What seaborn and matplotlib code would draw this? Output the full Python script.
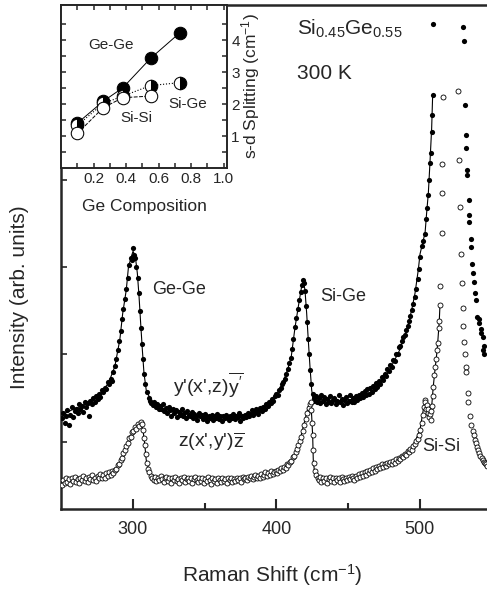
import numpy as np
import matplotlib
matplotlib.use('Agg')
import matplotlib.pyplot as plt
import seaborn as sns

# ---- main spectra: y'(x',z)y' (filled) ----
filled_x = [250.5, 251.5, 252.5, 253.5, 254.5, 255.5, 256.5, 257.5, 258.5, 259.5, 260.5, 261.5, 262.5, 263.5,
            264.5, 265.5, 266.5, 267.5, 268.5, 269.5, 270.5, 271.5, 272.5, 273.5, 274.5, 275.5, 276.5, 277.5,
            278.5, 279.5, 280.5, 281.5, 282.5, 283.5, 284.5, 285.5, 286.5, 287.5, 288.5, 289.5, 290.5, 291.5,
            292.5, 293.5, 294.5, 295.5, 296.5, 297.5, 298.5, 299.5, 300.5, 301.0, 301.5, 302.5, 303.5, 304.2,
            305.0, 305.8, 306.5, 307.2, 308.0, 308.8, 309.8, 311.0, 312.0, 313.0,
            314, 315, 316, 317, 318, 319, 320, 321, 322, 323, 324, 325, 326, 327, 328, 329, 330, 331, 332, 333,
            334, 335, 336, 337, 338, 339, 340, 341, 342, 343, 344, 345, 346, 347, 348, 349, 350, 351, 352, 353,
            354, 355, 356, 357, 358, 359, 360, 361, 362, 363, 364, 365, 366, 367, 368, 369, 370, 371, 372, 373,
            374, 375, 376, 377, 378, 379, 380, 381, 382, 383, 384, 385, 386, 387, 388, 389, 390, 391, 392, 393,
            394, 395, 396, 397, 398, 399, 400, 401, 402, 403, 404, 405, 406, 407, 408, 409, 410, 411, 412, 413,
            414, 415, 416, 417, 417.8, 418.5, 419.2, 420.0, 420.8, 421.5, 422.2, 423.0, 423.8, 424.5, 425.3, 426.0,
            426.5, 427.5, 428.5, 429.5, 430.5, 431.5, 432.5, 433.5, 434.5, 435.5, 436.5, 437.5, 438.5, 439.5,
            440.5, 441.5, 442.5, 443.5, 444.5, 445.5, 446.5, 447.5, 448.5, 449.5, 450.5, 451.5, 452.5, 453.5,
            454.5, 455.5, 456.5, 457.5, 458.5, 459.5, 460.5, 461.5, 462.5, 463.5, 464.5, 465.5, 466.5, 467.5,
            468.5, 469.5, 470.5, 471.5, 472.5, 473.5, 474.5, 475.5, 476.5, 477.5, 478.5, 479.5, 480.5, 481.5,
            482.5, 483.5, 484.5, 485.5, 486.5, 487.5, 488.5, 489.5, 490.5, 491.5, 492.5, 493.5, 494.5, 495.5,
            496.5, 497.5, 498.5, 499.5, 500.5, 501.5, 502.5, 503.5, 504.3, 505.0, 505.8, 506.5, 507.1, 507.6,
            508.2, 508.7, 509.1, 509.4,
            530.4, 530.8, 531.5, 532.0, 532.4, 533.1, 533.2, 534.1, 534.5, 534.6, 535.5, 535.6, 536.2, 537.3,
            537.8, 538.5, 539.2, 540.1, 541.0, 541.5, 542.5, 543.0, 543.9, 544.4, 544.6, 544.9]
filled_y = [0.27, 0.33, 0.22, 0.30, 0.36, 0.19, 0.31, 0.40, 0.28, 0.35, 0.38, 0.33, 0.43, 0.37,
            0.41, 0.34, 0.46, 0.40, 0.44, 0.30, 0.47, 0.43, 0.50, 0.45, 0.52, 0.49, 0.55, 0.51,
            0.59, 0.57, 0.62, 0.60, 0.68, 0.66, 0.72, 0.70, 0.80, 0.87, 0.95, 1.05, 1.15, 1.27,
            1.40, 1.52, 1.63, 1.75, 1.88, 2.02, 2.10, 2.08, 2.22, 2.14, 2.10, 2.00, 1.87, 1.70,
            1.50, 1.30, 1.12, 0.95, 0.78, 0.66, 0.57, 0.50, 0.47, 0.44,
            0.42, 0.46, 0.40, 0.43, 0.37, 0.41, 0.38, 0.43, 0.35, 0.39, 0.33, 0.40, 0.36, 0.30, 0.38, 0.33, 0.36, 0.28, 0.34, 0.31,
            0.37, 0.30, 0.33, 0.27, 0.35, 0.31, 0.29, 0.34, 0.27, 0.32, 0.30, 0.25, 0.33, 0.29, 0.31, 0.26, 0.32, 0.28, 0.24, 0.30,
            0.27, 0.31, 0.25, 0.29, 0.27, 0.32, 0.26, 0.29, 0.24, 0.30, 0.27, 0.31, 0.28, 0.25, 0.30, 0.27, 0.32, 0.26, 0.30, 0.28,
            0.33, 0.24, 0.30, 0.27, 0.31, 0.28, 0.33, 0.29, 0.32, 0.36, 0.31, 0.34, 0.37, 0.32, 0.36, 0.39, 0.35, 0.40, 0.38, 0.43,
            0.41, 0.46, 0.44, 0.49, 0.47, 0.52, 0.55, 0.53, 0.59, 0.61, 0.66, 0.68, 0.72, 0.77, 0.83, 0.90, 0.96, 1.06, 1.18, 1.31,
            1.42, 1.52, 1.62, 1.72, 1.80, 1.85, 1.82, 1.73, 1.55, 1.37, 1.18, 1.00, 0.82, 0.66, 0.55, 0.50,
            0.47, 0.52, 0.45, 0.50, 0.44, 0.53, 0.47, 0.51, 0.43, 0.49, 0.46, 0.52, 0.44, 0.48,
            0.50, 0.43, 0.47, 0.53, 0.45, 0.49, 0.42, 0.48, 0.51, 0.44, 0.47, 0.53, 0.46, 0.50,
            0.45, 0.52, 0.48, 0.54, 0.50, 0.56, 0.51, 0.58, 0.53, 0.60, 0.55, 0.62, 0.57, 0.64,
            0.60, 0.67, 0.63, 0.70, 0.66, 0.74, 0.71, 0.78, 0.75, 0.83, 0.81, 0.88, 0.86, 0.94,
            0.93, 1.01, 1.00, 1.08, 1.10, 1.15, 1.20, 1.22, 1.28, 1.33, 1.38, 1.44, 1.51, 1.58,
            1.66, 1.75, 1.86, 1.98, 2.12, 2.24, 2.30, 2.38, 2.55, 2.68, 2.83, 3.00, 3.19, 3.31,
            3.55, 3.74, 3.97, 4.78,
            4.75, 4.59, 3.86, 3.51, 3.36, 3.11, 3.05, 2.77, 2.60, 2.52, 2.32, 2.23, 2.04, 1.93,
            1.83, 1.70, 1.62, 1.43, 1.36, 1.40, 1.29, 1.25, 1.20, 1.05, 1.10, 1.00]

filled_fit_x = [250, 257, 266, 276, 283, 287.5, 291, 293, 295.5, 297, 299, 300.2, 301.8, 303.2, 304.4, 305.5,
                306.7, 307.8, 309.4, 313, 320, 329, 340, 352, 365, 376, 386, 392, 399, 404, 408, 410.5, 413,
                415.4, 417.7, 418.9, 420, 421.2, 422.3, 423.5, 424.7, 425.8, 433, 444, 456, 465, 472, 479, 486,
                491, 494.4, 496.7, 499, 500.2, 502.5, 503.7, 504.8, 506, 507.1, 508.3, 509]
filled_fit_y = [0.30, 0.36, 0.42, 0.52, 0.67, 0.86, 1.17, 1.47, 1.74, 2.00, 2.12, 2.18, 2.12, 1.93, 1.66, 1.36,
                1.05, 0.79, 0.59, 0.46, 0.39, 0.34, 0.31, 0.29, 0.28, 0.30, 0.34, 0.39, 0.50, 0.65, 0.83, 0.98, 1.30,
                1.55, 1.78, 1.83, 1.74, 1.47, 1.17, 0.86, 0.59, 0.48, 0.48, 0.47, 0.49, 0.56, 0.65, 0.82, 1.05,
                1.28, 1.51, 1.70, 1.97, 2.15, 2.31, 2.39, 2.62, 2.85, 3.19, 3.59, 3.97]

# ---- main spectra: z(x',y')z (open) ----
open_x = [250.5, 251.5, 252.5, 253.5, 254.5, 255.5, 256.5, 257.5, 258.5, 259.5, 260.5, 261.5, 262.5, 263.5,
          264.5, 265.5, 266.5, 267.5, 268.5, 269.5, 270.5, 271.5, 272.5, 273.5, 274.5, 275.5, 276.5, 277.5,
          278.5, 279.5, 280.5, 281.5, 282.5, 283.5, 284.5, 285.5, 286.5, 287.5, 288.5, 289.5, 290.5, 291.5,
          292.5, 293.5, 294.5, 295.5, 296.5, 297.5, 298.5, 299.5, 300.5, 301.5, 302.5, 303.5, 304.5, 305.5,
          306.2, 307.0, 307.7, 308.3, 309.0, 309.7, 310.5, 311.5, 312.5, 313.5, 314.5, 315.5,
          316.5, 317.5, 318.5, 319.5, 320.5, 321.5, 322.5, 323.5, 324.5, 325.5, 326.5, 327.5, 328.5, 329.5,
          330.5, 331.5, 332.5, 333.5, 334.5, 335.5, 336.5, 337.5, 338.5, 339.5, 340.5, 341.5, 342.5, 343.5,
          344.5, 345.5, 346.5, 347.5, 348.5, 349.5, 350.5, 351.5, 352.5, 353.5, 354.5, 355.5, 356.5, 357.5,
          358.5, 359.5, 360.5, 361.5, 362.5, 363.5, 364.5, 365.5, 366.5, 367.5, 368.5, 369.5, 370.5, 371.5,
          372.5, 373.5, 374.5, 375.5, 376.5, 377.5, 378.5, 379.5, 380.5, 381.5, 382.5, 383.5, 384.5, 385.5,
          386.5, 387.5, 388.5, 389.5, 390.5, 391.5, 392.5, 393.5, 394.5, 395.5, 396.5, 397.5, 398.5, 399.5,
          400.5, 401.5, 402.5, 403.5, 404.5, 405.5, 406.5, 407.5, 408.5, 409.5, 410.5, 411.5, 412.5, 413.5,
          414.5, 415.5, 416.5, 417.5, 418.5, 419.5, 420.5, 421.5, 422.5, 423.3, 424.0, 424.5, 424.9, 425.3,
          425.7, 426.1, 426.8, 427.8, 428.8,
          429.5, 430.5, 431.5, 432.5, 433.5, 434.5, 435.5, 436.5, 437.5, 438.5, 439.5, 440.5, 441.5, 442.5,
          443.5, 444.5, 445.5, 446.5, 447.5, 448.5, 449.5, 450.5, 451.5, 452.5, 453.5, 454.5, 455.5, 456.5,
          457.5, 458.5, 459.5, 460.5, 461.5, 462.5, 463.5, 464.5, 465.5, 466.5, 467.5, 468.5, 469.5, 470.5,
          471.5, 472.5, 473.5, 474.5, 475.5, 476.5, 477.5, 478.5, 479.5, 480.5, 481.5, 482.5, 483.5, 484.5,
          485.5, 486.5, 487.5, 488.5, 489.5, 490.5, 491.5, 492.5, 493.5, 494.5, 495.5, 496.5, 497.5, 498.5,
          499.5, 500.5, 501.5, 502.5, 503.0, 503.5, 504.0, 504.5, 505.0, 505.5, 506.0, 506.5, 507.0, 507.5,
          508.0, 508.5, 509.0, 509.5, 510.2, 510.8, 511.4, 511.9, 512.5, 513.2, 513.6, 514.1, 514.2, 515.3,
          515.3, 515.3, 516.0,
          527.0, 527.5, 528.0, 528.5, 529.2, 529.9, 530.3, 530.8, 531.3, 532.0, 532.4, 533.4, 533.8, 535.0,
          535.7, 536.9, 537.5, 538.3, 539.2, 540.0, 540.8, 541.5, 542.3, 543.1, 543.9, 544.7, 545.4, 546.2, 547.0]
open_y = [-0.50, -0.44, -0.47, -0.41, -0.46, -0.43, -0.48, -0.42, -0.45, -0.40, -0.46, -0.43, -0.47, -0.41,
          -0.44, -0.39, -0.45, -0.42, -0.46, -0.40, -0.43, -0.38, -0.44, -0.41, -0.45, -0.39, -0.42, -0.37,
          -0.41, -0.38, -0.42, -0.36, -0.39, -0.35, -0.38, -0.34, -0.36, -0.32, -0.31, -0.27, -0.26, -0.21,
          -0.19, -0.13, -0.10, -0.05, -0.02, 0.04, 0.05, 0.11, 0.12, 0.17, 0.15, 0.20, 0.18, 0.23,
          0.20, 0.13, 0.04, -0.04, -0.14, -0.24, -0.31, -0.35, -0.39, -0.41, -0.44, -0.40,
          -0.45, -0.41, -0.44, -0.39, -0.43, -0.46, -0.42, -0.40, -0.45, -0.42, -0.47, -0.41, -0.44, -0.40,
          -0.45, -0.43, -0.47, -0.42, -0.44, -0.40, -0.46, -0.43, -0.41, -0.45, -0.42, -0.47, -0.43, -0.40,
          -0.44, -0.46, -0.42, -0.45, -0.41, -0.47, -0.43, -0.45, -0.40, -0.44, -0.48, -0.42, -0.45, -0.43,
          -0.47, -0.41, -0.44, -0.46, -0.42, -0.45, -0.43, -0.47, -0.41, -0.44, -0.42, -0.46, -0.43, -0.45,
          -0.41, -0.44, -0.42, -0.46, -0.40, -0.43, -0.41, -0.44, -0.40, -0.42, -0.39, -0.43, -0.40, -0.38,
          -0.41, -0.39, -0.42, -0.37, -0.40, -0.38, -0.35, -0.39, -0.36, -0.38, -0.34, -0.37, -0.35, -0.33,
          -0.36, -0.32, -0.34, -0.30, -0.32, -0.29, -0.30, -0.26, -0.27, -0.23, -0.22, -0.18, -0.16, -0.12,
          -0.08, -0.04, 0.01, 0.06, 0.12, 0.19, 0.26, 0.33, 0.39, 0.43, 0.46, 0.36, 0.22, 0.08,
          -0.10, -0.24, -0.33, -0.38, -0.41,
          -0.44, -0.40, -0.46, -0.42, -0.45, -0.41, -0.47, -0.43, -0.40, -0.45, -0.42, -0.46, -0.41, -0.44,
          -0.42, -0.46, -0.40, -0.43, -0.45, -0.41, -0.44, -0.40, -0.43, -0.39, -0.42, -0.44, -0.39, -0.41,
          -0.37, -0.40, -0.36, -0.39, -0.35, -0.38, -0.33, -0.36, -0.32, -0.35, -0.30, -0.33, -0.29, -0.31,
          -0.28, -0.30, -0.26, -0.29, -0.25, -0.28, -0.24, -0.26, -0.23, -0.25, -0.22, -0.24, -0.20, -0.22,
          -0.19, -0.20, -0.16, -0.18, -0.14, -0.15, -0.11, -0.12, -0.08, -0.09, -0.05, -0.03, 0.01, 0.03,
          0.08, 0.14, 0.22, 0.31, 0.40, 0.48, 0.45, 0.38, 0.42, 0.33, 0.37, 0.28, 0.32, 0.25,
          0.35, 0.41, 0.52, 0.63, 0.76, 0.86, 0.95, 1.05, 1.13, 1.30, 1.38, 1.57, 1.78, 2.39,
          2.85, 3.18, 3.95,
          4.02, 3.23, 2.69, 2.15, 1.82, 1.53, 1.33, 1.14, 1.01, 0.86, 0.80, 0.56, 0.46, 0.29,
          0.19, 0.12, 0.08, 0.02, -0.02, -0.06, -0.10, -0.13, -0.16, -0.19, -0.21, -0.23, -0.24, -0.26, -0.28]

open_fit_x = [250, 262, 276, 287, 292, 295.5, 298.6, 301, 303.2, 305.5, 307.1, 308.3, 309.4, 311.8, 317.6,
              331.5, 352, 376, 390, 399, 405, 410.8, 414, 416.6, 420, 422.3, 424, 424.7, 425.4, 425.8, 426.5,
              429.3, 444.4, 456, 467.6, 479.3, 488.5, 495.5, 500.2, 502.5, 503.7, 505.3, 507.1, 508.3, 509.4,
              510.6, 511.8, 512.5, 513.6, 514.1]
open_fit_y = [-0.46, -0.43, -0.40, -0.36, -0.24, -0.09, 0.06, 0.14, 0.19, 0.22, 0.14, -0.02, -0.21, -0.36, -0.42,
              -0.43, -0.43, -0.43, -0.40, -0.37, -0.32, -0.24, -0.12, 0.02, 0.25, 0.40, 0.46, 0.29, 0.06, -0.21, -0.32,
              -0.40, -0.43, -0.41, -0.32, -0.24, -0.17, -0.05, 0.14, 0.37, 0.48, 0.40, 0.29, 0.40, 0.63,
              0.82, 1.00, 1.13, 1.38, 1.57]

# ---- inset: s-d splitting vs Ge composition ----
gege_comp = [0.10, 0.26, 0.38, 0.55, 0.73]
gege_split = [1.40, 2.09, 2.51, 3.43, 4.23]
sige_comp = [0.10, 0.26, 0.38, 0.55, 0.73]
sige_split = [1.33, 2.02, 2.25, 2.58, 2.67]
sisi_comp = [0.10, 0.26, 0.38, 0.55]
sisi_split = [1.08, 1.89, 2.20, 2.25]

sns.set_style('ticks')
plt.rcParams['font.family'] = ['Liberation Sans', 'DejaVu Sans']
plt.rcParams['mathtext.fontset'] = 'custom'
plt.rcParams['mathtext.rm'] = 'Liberation Sans'
plt.rcParams['mathtext.it'] = 'Liberation Sans:italic'
plt.rcParams['mathtext.default'] = 'regular'

fig = plt.figure(figsize=(4.87, 5.93), dpi=100)
ax = fig.add_axes([61 / 487, 84 / 593, 430.5 / 487, 504 / 593])

# fit lines
sns.lineplot(x=filled_fit_x, y=filled_fit_y, ax=ax, color='black', lw=0.8, sort=False, estimator=None)
sns.lineplot(x=open_fit_x, y=open_fit_y, ax=ax, color='black', lw=0.8, sort=False, estimator=None)
# data points
sns.scatterplot(x=filled_x, y=filled_y, ax=ax, color='black', s=14, linewidth=0, zorder=3)
sns.scatterplot(x=open_x, y=open_y, ax=ax, color='white', edgecolor='black', s=13, linewidth=0.6, zorder=3)

ax.set_xlim(250, 550)
ax.set_ylim(-0.77, 5.0)
ax.set_xticks([300, 400, 500])
ax.set_xticks([350, 450], minor=True)
ax.set_yticks([0, 1, 2, 3, 4, 5])
ax.tick_params(axis='x', which='major', direction='in', length=7, width=1.5, labelsize=13, pad=9)
ax.tick_params(axis='x', which='minor', direction='in', length=4, width=1.5)
ax.tick_params(axis='y', which='major', direction='in', length=4, width=1.2, labelleft=False)
ax.spines['right'].set_visible(False)
for s in ['left', 'bottom', 'top']:
    ax.spines[s].set_linewidth(1.8)

ax.set_xlabel('Raman Shift (cm$^{-1}$)', fontsize=15)
ax.xaxis.set_label_coords(0.49, -0.105)
ax.set_ylabel('Intensity (arb. units)', fontsize=15)
ax.yaxis.set_label_coords(-0.075, 0.42)

ax.text(313.5, 1.74, 'Ge-Ge', fontsize=13, va='center')
ax.text(430.5, 1.66, 'Si-Ge', fontsize=13, va='center')
ax.text(501.5, -0.06, 'Si-Si', fontsize=13, va='center')
ax.text(328, 0.65, r"y'(x',z)$\overline{\mathregular{y'}}$", fontsize=14, va='center')
ax.text(331.5, 0.0, r"z(x',y')$\overline{\mathregular{z}}$", fontsize=14, va='center')
ax.text(414.5, 4.66, r'Si$_{0.45}$Ge$_{0.55}$', fontsize=15, va='baseline')
ax.text(414.5, 4.15, '300 K', fontsize=15, va='baseline')

# inset
axi = fig.add_axes([61 / 487, 425 / 593, 166 / 487, 163 / 593])
axi.set_facecolor('white')
sns.lineplot(x=gege_comp, y=gege_split, ax=axi, color='black', lw=0.7, marker='o', markersize=9,
             mfc='black', mec='black', sort=False, estimator=None)
sns.lineplot(x=sige_comp, y=sige_split, ax=axi, color='black', lw=0.8, ls=':', marker='o', markersize=9,
             fillstyle='right', mfc='black', mfcalt='white', mec='black', sort=False, estimator=None)
sns.lineplot(x=sisi_comp, y=sisi_split, ax=axi, color='black', lw=0.7, dashes=(4, 1.5), marker='o', markersize=9,
             mfc='white', mec='black', sort=False, estimator=None)
axi.set_xlim(0, 1.02)
axi.set_ylim(0, 5.1)
axi.set_xticks([0.2, 0.4, 0.6, 0.8, 1.0])
axi.set_xticks([0.1, 0.3, 0.5, 0.7, 0.9], minor=True)
axi.set_yticks([1, 2, 3, 4])
axi.set_yticks([0.5, 1.5, 2.5, 3.5, 4.5], minor=True)
axi.tick_params(which='both', direction='in', top=True, right=True, left=True, bottom=True,
                labelleft=False, labelright=True, length=3.5, width=1.1, labelsize=11, pad=3)
for s in axi.spines.values():
    s.set_linewidth(1.4)
axi.set_xlabel('Ge Composition', fontsize=12.5)
axi.xaxis.set_label_coords(0.5, -0.19)
axi.yaxis.set_label_position('right')
axi.set_ylabel('s-d Splitting (cm$^{-1}$)', fontsize=12.5)
axi.yaxis.set_label_coords(1.07, 0.5)
axi.text(0.31, 3.85, 'Ge-Ge', fontsize=11, ha='center', va='center')
axi.text(0.78, 2.0, 'Si-Ge', fontsize=11, ha='center', va='center')
axi.text(0.46, 1.55, 'Si-Si', fontsize=11, ha='center', va='center')

fig.savefig('out.png', dpi=100)
